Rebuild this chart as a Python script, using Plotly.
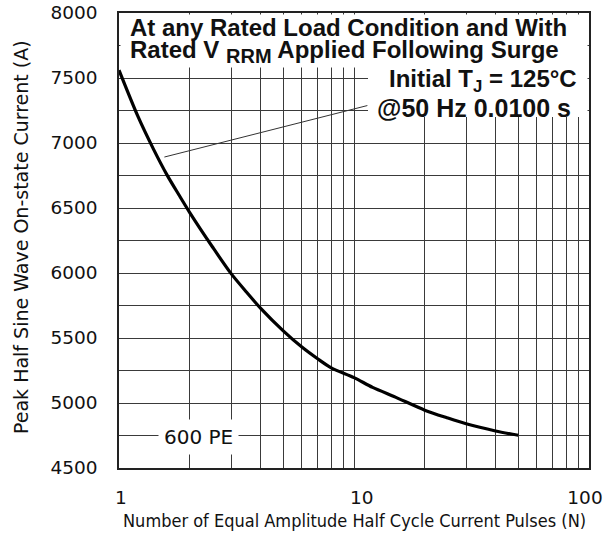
import plotly.graph_objects as go

# ---- data ----
pulses = [1, 1.2, 1.4, 1.6, 1.8, 2, 2.5, 3, 3.5, 4, 5, 6, 7, 8, 10, 12, 15, 20, 25, 30, 40, 50]
current = [7560, 7210, 6955, 6755, 6600, 6465, 6200, 5995, 5850, 5730, 5555, 5430, 5340, 5270,
           5195, 5120, 5045, 4945, 4885, 4840, 4785, 4752]

leader_x = [1.56, 11.4]
leader_y = [6892, 7288]

x_tickvals = [1, 2, 3, 4, 5, 6, 7, 8, 9, 10, 20, 30, 40, 50, 60, 70, 80, 90, 100]
x_ticktext = ["\u00a0\u00a01", "", "", "", "", "", "", "", "", "\u00a0\u00a0\u00a0\u00a010", "", "", "", "", "",
              "", "", "", "100"]
y_tickvals = [4500, 4750, 5000, 5250, 5500, 5750, 6000, 6250, 6500, 6750, 7000, 7250, 7500, 7750, 8000]
y_ticktext = ["4500", "", "5000", "", "5500", "", "6000", "", "6500", "", "7000", "", "7500", "", "8000"]

FONT = "DejaVu Sans"
TFONT = "Liberation Sans, Arial, sans-serif"
GRID = "#3a3a3a"
INK = "#111111"

W, H = 604, 535
# plot area in pixels
L, R, T, B = 119, 589, 13, 468


def px_x(px):
    return (px - L) / (R - L)


def px_y(py):
    return (B - py) / (B - T)


fig = go.Figure()
fig.add_trace(go.Scatter(x=leader_x, y=leader_y, mode="lines",
                         line=dict(color="#333333", width=1), hoverinfo="skip", showlegend=False))
fig.add_trace(go.Scatter(x=pulses, y=current, mode="lines",
                         line=dict(color="black", width=3.2, shape="spline", smoothing=0.8),
                         showlegend=False))

# white masks that hide the grid behind the header texts
fig.add_shape(type="rect", xref="paper", yref="paper", x0=px_x(120.5), x1=px_x(587.5),
              y0=px_y(67.5), y1=px_y(14.5), fillcolor="white", line=dict(width=0), layer="above")
fig.add_shape(type="rect", xref="paper", yref="paper", x0=px_x(368), x1=px_x(587.5),
              y0=px_y(117), y1=px_y(67), fillcolor="white", line=dict(width=0), layer="above")

ann_font = dict(family=TFONT, size=24, color=INK, weight="bold")
fig.add_annotation(xref="paper", yref="paper", x=px_x(128), y=px_y(28), xanchor="left", yanchor="middle",
                   text="At any Rated Load Condition and With", showarrow=False, font=ann_font)
fig.add_annotation(xref="paper", yref="paper", x=px_x(128), y=px_y(51), xanchor="left", yanchor="middle",
                   text="Rated V <sub><span style='font-size:20px'>RRM</span></sub> Applied Following Surge",
                   showarrow=False, font=ann_font)
fig.add_annotation(xref="paper", yref="paper", x=px_x(579), y=px_y(80), xanchor="right", yanchor="middle",
                   text="Initial T<sub>J</sub> = 125°C", showarrow=False, font=ann_font)
fig.add_annotation(xref="paper", yref="paper", x=px_x(573), y=px_y(108), xanchor="right", yanchor="middle",
                   text="@50 Hz 0.0100 s", showarrow=False, font=dict(ann_font, size=25))
fig.add_annotation(xref="paper", yref="paper", x=px_x(198), y=px_y(437), xanchor="center", yanchor="middle",
                   text="600 PE", showarrow=False, bgcolor="white", borderpad=5,
                   font=dict(family=FONT, size=20, color=INK))
fig.add_annotation(xref="paper", yref="paper", x=px_x(21), y=px_y(237), xanchor="center", yanchor="middle",
                   text="Peak Half Sine Wave On-state Current (A)", textangle=-90, showarrow=False,
                   font=dict(family=FONT, size=19, color=INK))
fig.add_annotation(xref="paper", yref="paper", x=px_x(354), y=px_y(520), xanchor="center", yanchor="middle",
                   text="Number of Equal Amplitude Half Cycle Current Pulses (N)", showarrow=False,
                   font=dict(family="DejaVu Sans Condensed", size=18, color=INK))

fig.update_xaxes(type="log", range=[0, 2], tickvals=x_tickvals, ticktext=x_ticktext,
                 showgrid=True, gridcolor=GRID, gridwidth=1, ticks="", ticklabelstandoff=12,
                 ticklabelshift=-4, ticklabeloverflow="allow", automargin=False,
                 showline=True, mirror=True, linecolor="#222222", linewidth=1.5, zeroline=False,
                 tickfont=dict(family=FONT, size=18.5, color=INK))
fig.update_yaxes(range=[4500, 8000], tickvals=y_tickvals, ticktext=y_ticktext,
                 showgrid=True, gridcolor=GRID, gridwidth=1, ticks="", ticklabelstandoff=16,
                 ticklabeloverflow="allow", automargin=False,
                 showline=True, mirror=True, linecolor="#222222", linewidth=1.5, zeroline=False,
                 tickfont=dict(family=FONT, size=18.5, color=INK))

fig.update_layout(width=W, height=H,
                  margin=dict(l=L, r=W - R, t=T, b=H - B),
                  paper_bgcolor="white", plot_bgcolor="white", showlegend=False)

fig.write_html("out.html", config={"displayModeBar": False},
               post_script="document.body.style.margin='0px';")
